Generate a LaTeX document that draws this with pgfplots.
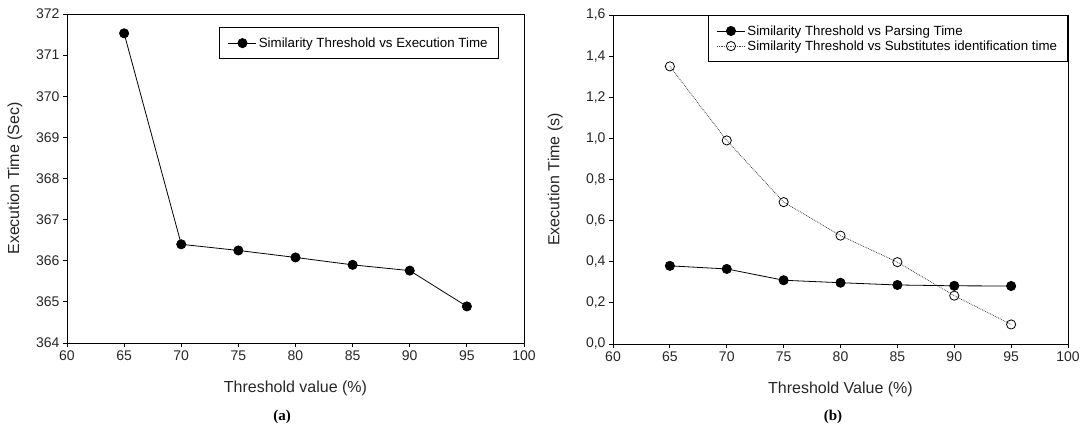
\documentclass[border=0pt]{standalone}
\usepackage{pgfplots}
\pgfplotsset{compat=1.18}
\usepackage{fontspec}
\setmainfont{Liberation Sans}
\newfontfamily\serifbold{Liberation Serif}
\begin{document}
\begin{tikzpicture}
\useasboundingbox (0,0) rectangle (1080pt,430pt);
\pgfplotsset{
  myaxis/.style={
    scale only axis,
    anchor=south west,
    xmin=60, xmax=100,
    xtick={60,65,...,100},
    xtick pos=lower, ytick pos=left,
    tick align=outside,
    major tick length=4pt,
    axis line style={line width=0.9pt},
    every tick/.style={black, line width=0.8pt},
    /pgf/number format/assume math mode=true,
    tick label style={font=\fontsize{14}{16}\selectfont, black!85},
    label style={font=\fontsize{16}{19}\selectfont, black!85},
    legend style={font=\fontsize{13.3}{16}\selectfont, draw=black, line width=0.8pt, inner xsep=8.5pt, inner ysep=8pt, cells={anchor=west}},
    legend image code/.code={\draw[mark repeat=2,mark phase=2,##1] plot coordinates {(0pt,0pt) (14pt,0pt) (28pt,0pt)};},
    xlabel style={at={(axis description cs:0.5,-0.137)}, anchor=center},
  }
}
\begin{axis}[myaxis,
  at={(67pt,87pt)}, width=457pt, height=329pt,
  ymin=364, ymax=372, ytick={364,365,...,372},
  xlabel={Threshold value (\%)},
  ylabel={Execution Time (Sec)},
  ylabel style={at={(axis description cs:-0.114,0.5)}, anchor=center, rotate=0},
  legend style={at={(0.333,0.960)}, anchor=north west},
]
\addplot[black, line width=0.8pt, mark=*, mark size=4.6pt, mark options={solid, fill=black}] coordinates {
(65,371.53) (70,366.40) (75,366.25) (80,366.08) (85,365.90) (90,365.76) (95,364.89)};
\addlegendentry{Similarity Threshold vs Execution Time}
\end{axis}
\begin{axis}[myaxis,
  at={(613pt,86pt)}, width=455pt, height=329pt,
  ymin=0, ymax=1.6, ytick={0,0.2,...,1.6},
  yticklabel style={/pgf/number format/.cd, fixed, fixed zerofill, precision=1, use comma},
  xlabel={Threshold Value (\%)},
  ylabel={Execution Time (s)},
  ylabel style={at={(axis description cs:-0.127,0.5)}, anchor=center},
  legend style={at={(1,1)}, anchor=north east},
]
\addplot[black, line width=0.8pt, mark=*, mark size=4.6pt, mark options={solid, fill=black}] coordinates {
(65,0.380) (70,0.365) (75,0.310) (80,0.298) (85,0.287) (90,0.283) (95,0.282)};
\addlegendentry{Similarity Threshold vs Parsing Time}
\addplot[black!75, line width=0.8pt, densely dotted, mark=o, mark size=4.6pt, mark options={solid, black, fill=white}] coordinates {
(65,1.350) (70,0.990) (75,0.690) (80,0.527) (85,0.398) (90,0.235) (95,0.095)};
\addlegendentry{Similarity Threshold vs Substitutes identification time}
\end{axis}
\node[font=\serifbold\bfseries\fontsize{15}{17}\selectfont] at (282pt,13pt) {(a)};
\node[font=\serifbold\bfseries\fontsize{15}{17}\selectfont] at (833pt,13pt) {(b)};
\end{tikzpicture}
\end{document}
